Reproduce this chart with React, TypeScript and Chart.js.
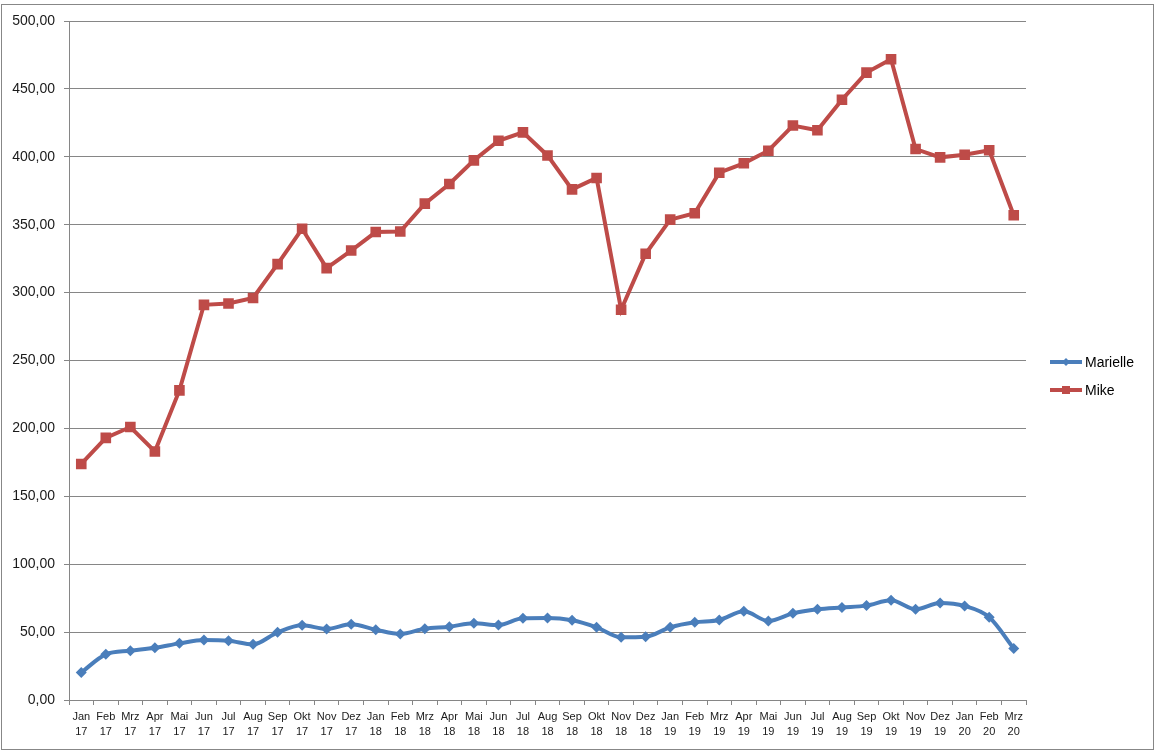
import { useEffect, useRef } from "react";
import { Chart, registerables } from "chart.js";

Chart.register(...registerables);

const categories = [
  "Jan 17", "Feb 17", "Mrz 17", "Apr 17", "Mai 17", "Jun 17", "Jul 17", "Aug 17", "Sep 17", "Okt 17", "Nov 17", "Dez 17",
  "Jan 18", "Feb 18", "Mrz 18", "Apr 18", "Mai 18", "Jun 18", "Jul 18", "Aug 18", "Sep 18", "Okt 18", "Nov 18", "Dez 18",
  "Jan 19", "Feb 19", "Mrz 19", "Apr 19", "Mai 19", "Jun 19", "Jul 19", "Aug 19", "Sep 19", "Okt 19", "Nov 19", "Dez 19",
  "Jan 20", "Feb 20", "Mrz 20",
];

const marielle = [
  20.3, 33.6, 36.3, 38.5, 41.7, 44.2, 43.7, 41.0, 49.8, 55.0, 52.3, 55.7,
  51.8, 48.6, 52.5, 54.0, 56.5, 55.2, 60.2, 60.4, 58.7, 53.5, 46.2, 46.6,
  53.5, 57.2, 58.9, 65.3, 58.2, 63.8, 66.8, 68.2, 69.5, 73.4, 66.8, 71.4,
  69.2, 60.9, 38.0,
];

const mike = [
  173.8, 193.0, 201.0, 183.0, 228.0, 291.0, 292.0, 296.0, 321.0, 347.0, 318.0, 331.0,
  344.6, 345.0, 365.5, 380.0, 397.4, 411.8, 418.0, 401.0, 376.0, 384.4, 287.4, 328.6,
  353.7, 358.4, 388.3, 395.2, 404.5, 423.0, 419.5, 442.0, 462.0, 471.8, 405.7, 399.6,
  401.5, 404.8, 357.0,
];

const yTickLabels = [
  "0,00", "50,00", "100,00", "150,00", "200,00", "250,00",
  "300,00", "350,00", "400,00", "450,00", "500,00",
];

const seriesNames = ["Marielle", "Mike"];

const BLUE = "#4A7EBB";
const RED = "#BE4B48";
const GRID = "#868686";
const TEXT = "#1a1a1a";
const FONT = "'Liberation Sans', Arial, sans-serif";

function drawMarker(ctx: CanvasRenderingContext2D, style: string, x: number, y: number, r: number, color: string) {
  ctx.fillStyle = color;
  ctx.beginPath();
  if (style === "rectRot") {
    ctx.moveTo(x, y - r);
    ctx.lineTo(x + r, y);
    ctx.lineTo(x, y + r);
    ctx.lineTo(x - r, y);
    ctx.closePath();
  } else {
    ctx.rect(x - r, y - r, 2 * r, 2 * r);
  }
  ctx.fill();
}

const legendPlugin = {
  id: "excelLegend",
  afterDraw(chart: any) {
    const ctx = chart.ctx as CanvasRenderingContext2D;
    chart.data.datasets.forEach((ds: any, i: number) => {
      const y = 362 + i * 28;
      ctx.save();
      ctx.strokeStyle = ds.borderColor;
      ctx.lineWidth = 4;
      ctx.beginPath();
      ctx.moveTo(1050, y);
      ctx.lineTo(1082, y);
      ctx.stroke();
      drawMarker(ctx, ds.pointStyle, 1066, y, ds.pointStyle === "rectRot" ? 4 : 4, ds.borderColor);
      ctx.fillStyle = "#000";
      ctx.font = `14px ${FONT}`;
      ctx.textBaseline = "middle";
      ctx.textAlign = "left";
      ctx.fillText(ds.label, 1085, y + 1);
      ctx.restore();
    });
  },
};

export default function App() {
  const canvasRef = useRef<HTMLCanvasElement | null>(null);

  useEffect(() => {
    if (!canvasRef.current) return;
    const chart = new Chart(canvasRef.current, {
      type: "line",
      data: {
        labels: categories.map((c) => c.split(" ")),
        datasets: [
          {
            label: seriesNames[0],
            data: marielle,
            borderColor: BLUE,
            backgroundColor: BLUE,
            borderWidth: 4,
            pointStyle: "rectRot",
            pointRadius: 5.5,
            pointBorderWidth: 0,
            tension: 0.25,
            cubicInterpolationMode: "monotone",
          } as any,
          {
            label: seriesNames[1],
            data: mike,
            borderColor: RED,
            backgroundColor: RED,
            borderWidth: 4,
            pointStyle: "rect",
            pointRadius: 7.5,
            pointBorderWidth: 0,
            tension: 0,
          } as any,
        ],
      },
      options: {
        animation: false,
        responsive: false,
        layout: { padding: { left: 0, top: 21, right: 131, bottom: 0 } },
        plugins: { legend: { display: false }, tooltip: { enabled: false } },
        scales: {
          x: {
            offset: true,
            grid: { offset: true, drawOnChartArea: false, tickLength: 5, color: GRID, tickColor: GRID },
            border: { color: GRID, width: 1 },
            ticks: {
              autoSkip: false,
              maxRotation: 0,
              minRotation: 0,
              padding: 4,
              color: TEXT,
              font: { family: FONT, size: 11, lineHeight: 1.42 },
            },
            afterFit: (scale: any) => {
              scale.height = 54;
            },
          },
          y: {
            min: 0,
            max: 500,
            grid: { color: GRID, tickLength: 5, tickColor: GRID },
            border: { color: GRID, width: 1 },
            ticks: {
              stepSize: 50,
              padding: 9,
              color: TEXT,
              font: { family: FONT, size: 14 },
              callback: (_v: any, index: number) => yTickLabels[index],
            },
            afterFit: (scale: any) => {
              scale.width = 69;
            },
          },
        },
      },
      plugins: [legendPlugin],
    });
    return () => chart.destroy();
  }, []);

  return (
    <div style={{ position: "absolute", left: 0, top: 0, width: 1157, height: 754, background: "#fff" }}>
      <div
        style={{
          position: "absolute",
          left: 1,
          top: 4,
          width: 1153,
          height: 746,
          boxSizing: "border-box",
          border: "1px solid #878787",
        }}
      />
      <canvas ref={canvasRef} width={1157} height={754} style={{ position: "absolute", left: 0, top: 0, width: 1157, height: 754 }} />
    </div>
  );
}
